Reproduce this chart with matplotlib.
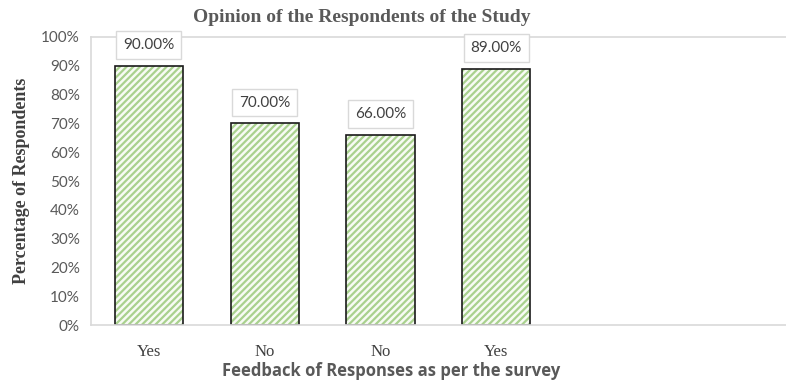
import matplotlib.pyplot as plt

categories = ["Yes", "No", "No", "Yes", "", ""]
values = [90, 70, 66, 89]
labels = ["90.00%", "70.00%", "66.00%", "89.00%"]

plt.rcParams['hatch.linewidth'] = 1.6
fig = plt.figure(figsize=(7.86, 3.83), dpi=100)
ax = fig.add_axes([0.1158, 0.1514, 0.884, 0.752])

x = list(range(len(categories)))
bx = x[:len(values)]
# hatched fill first, black outline on top
ax.bar(bx, values, width=0.59, color='#f7fbf4', edgecolor='#a9d18e', hatch='/////', linewidth=0)
ax.bar(bx, values, width=0.59, fill=False, edgecolor='#1a1a1a', linewidth=1.2)

for i, lab in enumerate(labels):
    ax.annotate(lab, (bx[i], values[i]), xytext=(0, 15), textcoords='offset points',
                ha='center', va='center', fontsize=11, color='#404040', family='Lato',
                bbox=dict(boxstyle='square,pad=0.45', fc='white', ec='#d9d9d9', lw=1))

ax.set_xlim(-0.5, len(categories) - 0.5)
ax.set_ylim(0, 100)
ax.set_yticks(range(0, 101, 10))
ax.set_yticklabels([f"{t}%" for t in range(0, 101, 10)], family='Lato', fontsize=11, color='#595959')
ax.set_xticks(x)
ax.set_xticklabels(categories, family='Liberation Serif', fontsize=12, color='#404040')
ax.tick_params(length=0)
ax.tick_params(axis='x', pad=14)
ax.tick_params(axis='y', pad=8)

for s in ax.spines.values():
    s.set_color('#d9d9d9')
    s.set_linewidth(1.2)
ax.spines['right'].set_visible(False)

# title and x label are not centred on the axes in the original
fig.text(0.4606, 0.9556, "Opinion of the Respondents of the Study", family='Liberation Serif',
         fontweight='bold', fontsize=14, color='#595959', ha='center', va='center')
ax.set_ylabel("Percentage of Respondents", family='Liberation Serif', fontweight='bold',
              fontsize=13, color='#404040', labelpad=8)
ax.set_xlabel("Feedback of Responses as per the survey", family='Open Sans',
              fontweight='bold', fontsize=12, color='#595959', va='center')
ax.xaxis.set_label_coords(0.432, -0.158)

plt.savefig("out.png", dpi=100)
